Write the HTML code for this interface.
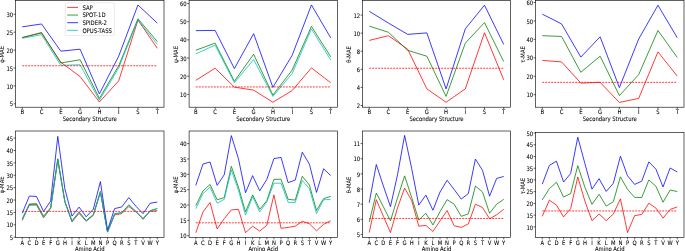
<!DOCTYPE html>
<html lang="en"><head><meta charset="utf-8"><title>MAE by secondary structure and amino acid</title>
<style>html,body{margin:0;padding:0;background:#fff}body{width:685px;height:251px;overflow:hidden}svg{display:block}</style>
</head><body>
<svg width="685" height="251" viewBox="0 0 685 251" font-family="'DejaVu Sans', 'Liberation Sans', sans-serif" font-size="5.27" fill="#000"><style>text{text-rendering:geometricPrecision;stroke:#000;stroke-width:0.06px;stroke-linejoin:round}</style>
<rect width="685" height="251" fill="#fff"/>
<g>
<clipPath id="cp0"><rect x="15.5" y="0.5" width="148.5" height="106.7"/></clipPath>
<g clip-path="url(#cp0)" fill="none" stroke-width="0.77" stroke-linejoin="miter" stroke-linecap="butt">
<polyline stroke="#ff0000" points="22.25,37.57 41.54,32.92 60.82,62.27 80.11,76.59 99.39,102.01 118.68,80.89 137.96,20.03 157.25,48.31"/>
<polyline stroke="#008000" points="22.25,37.57 41.54,32.56 60.82,62.99 80.11,59.77 99.39,98.43 118.68,65.85 137.96,18.77 157.25,41.51"/>
<polyline stroke="#0000ff" points="22.25,26.83 41.54,23.97 60.82,51.17 80.11,49.2 99.39,93.95 118.68,56.19 137.96,4.99 157.25,23.07"/>
<polyline stroke="#00bfbf" points="22.25,38.29 41.54,34.71 60.82,65.31 80.11,64.78 99.39,100.22 118.68,68 137.96,20.03 157.25,44.37"/>
<line x1="22.25" y1="65.78" x2="157.25" y2="65.78" stroke="#ff0000" stroke-dasharray="1.95 1.05"/>
</g>
<path d="M22.25 107.2v1.9M41.54 107.2v1.9M60.82 107.2v1.9M80.11 107.2v1.9M99.39 107.2v1.9M118.68 107.2v1.9M137.96 107.2v1.9M157.25 107.2v1.9M15.5 103.8h-1.9M15.5 85.9h-1.9M15.5 68h-1.9M15.5 50.1h-1.9M15.5 32.2h-1.9M15.5 14.3h-1.9" stroke="#000" stroke-width="0.62" fill="none"/>
<rect x="15.5" y="0.5" width="148.5" height="106.7" fill="none" stroke="#000" stroke-width="0.62"/>
<g text-anchor="middle">
<text transform="translate(22.25 114.21) scale(1 1.16)">B</text>
<text transform="translate(41.54 114.21) scale(1 1.16)">C</text>
<text transform="translate(60.82 114.21) scale(1 1.16)">E</text>
<text transform="translate(80.11 114.21) scale(1 1.16)">G</text>
<text transform="translate(99.39 114.21) scale(1 1.16)">H</text>
<text transform="translate(118.68 114.21) scale(1 1.16)">I</text>
<text transform="translate(137.96 114.21) scale(1 1.16)">S</text>
<text transform="translate(157.25 114.21) scale(1 1.16)">T</text>
<text transform="translate(89.75 120.5) scale(1 1.16)">Secondary Structure</text>
</g>
<g text-anchor="end">
<text transform="translate(13.1 106.43) scale(1 1.16)">5</text>
<text transform="translate(13.1 88.53) scale(1 1.16)">10</text>
<text transform="translate(13.1 70.63) scale(1 1.16)">15</text>
<text transform="translate(13.1 52.73) scale(1 1.16)">20</text>
<text transform="translate(13.1 34.83) scale(1 1.16)">25</text>
<text transform="translate(13.1 16.93) scale(1 1.16)">30</text>
</g>
<text text-anchor="middle" transform="translate(3.93 54.45) rotate(-90) scale(1 1.16)">φ-MAE</text>
<rect x="65.3" y="2.9" width="49.0" height="32.6" rx="1" ry="1" fill="#fff" fill-opacity="0.8" stroke="#ccc" stroke-width="0.4"/>
<g font-size="5.37">
<line x1="67.2" x2="78" y1="7.4" y2="7.4" stroke="#ff0000" stroke-width="0.77"/>
<text transform="translate(82.4 9.63) scale(1 1.16)">SAP</text>
<line x1="67.2" x2="78" y1="15.05" y2="15.05" stroke="#008000" stroke-width="0.77"/>
<text transform="translate(82.4 17.28) scale(1 1.16)">SPOT-1D</text>
<line x1="67.2" x2="78" y1="22.7" y2="22.7" stroke="#0000ff" stroke-width="0.77"/>
<text transform="translate(82.4 24.93) scale(1 1.16)">SPIDER-2</text>
<line x1="67.2" x2="78" y1="30.35" y2="30.35" stroke="#00bfbf" stroke-width="0.77"/>
<text transform="translate(82.4 32.58) scale(1 1.16)">OPUS-TASS</text>
</g>
</g>
<g>
<clipPath id="cp1"><rect x="189.1" y="0.5" width="148.35" height="106.7"/></clipPath>
<g clip-path="url(#cp1)" fill="none" stroke-width="0.77" stroke-linejoin="miter" stroke-linecap="butt">
<polyline stroke="#ff0000" points="195.84,80.31 215.11,68.22 234.38,87.13 253.64,90.13 272.91,102.22 292.17,90.58 311.44,67.86 330.71,82.76"/>
<polyline stroke="#008000" points="195.84,50.22 215.11,43.13 234.38,81.31 253.64,54.22 272.91,95.13 292.17,70.04 311.44,26.41 330.71,56.77"/>
<polyline stroke="#0000ff" points="195.84,30.64 215.11,30.41 234.38,68.58 253.64,33.68 272.91,87.4 292.17,55.31 311.44,4.95 330.71,37.86"/>
<polyline stroke="#00bfbf" points="195.84,53.86 215.11,45.13 234.38,82.76 253.64,59.49 272.91,96.4 292.17,73.49 311.44,28.95 330.71,59.86"/>
<line x1="195.84" y1="86.95" x2="330.71" y2="86.95" stroke="#ff0000" stroke-dasharray="1.95 1.05"/>
</g>
<path d="M195.84 107.2v1.9M215.11 107.2v1.9M234.38 107.2v1.9M253.64 107.2v1.9M272.91 107.2v1.9M292.17 107.2v1.9M311.44 107.2v1.9M330.71 107.2v1.9M189.1 94.4h-1.9M189.1 76.22h-1.9M189.1 58.04h-1.9M189.1 39.86h-1.9M189.1 21.68h-1.9M189.1 3.5h-1.9" stroke="#000" stroke-width="0.62" fill="none"/>
<rect x="189.1" y="0.5" width="148.35" height="106.7" fill="none" stroke="#000" stroke-width="0.62"/>
<g text-anchor="middle">
<text transform="translate(195.84 114.21) scale(1 1.16)">B</text>
<text transform="translate(215.11 114.21) scale(1 1.16)">C</text>
<text transform="translate(234.38 114.21) scale(1 1.16)">E</text>
<text transform="translate(253.64 114.21) scale(1 1.16)">G</text>
<text transform="translate(272.91 114.21) scale(1 1.16)">H</text>
<text transform="translate(292.17 114.21) scale(1 1.16)">I</text>
<text transform="translate(311.44 114.21) scale(1 1.16)">S</text>
<text transform="translate(330.71 114.21) scale(1 1.16)">T</text>
<text transform="translate(263.27 120.5) scale(1 1.16)">Secondary Structure</text>
</g>
<g text-anchor="end">
<text transform="translate(186.7 97.03) scale(1 1.16)">10</text>
<text transform="translate(186.7 78.85) scale(1 1.16)">20</text>
<text transform="translate(186.7 60.67) scale(1 1.16)">30</text>
<text transform="translate(186.7 42.49) scale(1 1.16)">40</text>
<text transform="translate(186.7 24.31) scale(1 1.16)">50</text>
<text transform="translate(186.7 6.13) scale(1 1.16)">60</text>
</g>
<text text-anchor="middle" transform="translate(178.13 54.45) rotate(-90) scale(1 1.16)">ψ-MAE</text>
</g>
<g>
<clipPath id="cp2"><rect x="362.5" y="0.5" width="147.95" height="106.7"/></clipPath>
<g clip-path="url(#cp2)" fill="none" stroke-width="0.77" stroke-linejoin="miter" stroke-linecap="butt">
<polyline stroke="#ff0000" points="369.23,40.41 388.44,35.71 407.65,49.18 426.87,88.87 446.08,102.25 465.3,88.87 484.51,32.73 503.72,79.83"/>
<polyline stroke="#008000" points="369.23,26.13 388.44,32.28 407.65,50.36 426.87,56.23 446.08,96.46 465.3,43.12 484.51,22.6 503.72,61.57"/>
<polyline stroke="#0000ff" points="369.23,11.3 388.44,23.06 407.65,34.36 426.87,32.91 446.08,88.87 465.3,28.84 484.51,5.16 503.72,44.48"/>
<line x1="369.23" y1="68.26" x2="503.72" y2="68.26" stroke="#ff0000" stroke-dasharray="1.95 1.05"/>
</g>
<path d="M369.23 107.2v1.9M388.44 107.2v1.9M407.65 107.2v1.9M426.87 107.2v1.9M446.08 107.2v1.9M465.3 107.2v1.9M484.51 107.2v1.9M503.72 107.2v1.9M362.5 105.5h-1.9M362.5 87.42h-1.9M362.5 69.34h-1.9M362.5 51.26h-1.9M362.5 33.18h-1.9M362.5 15.1h-1.9" stroke="#000" stroke-width="0.62" fill="none"/>
<rect x="362.5" y="0.5" width="147.95" height="106.7" fill="none" stroke="#000" stroke-width="0.62"/>
<g text-anchor="middle">
<text transform="translate(369.23 114.21) scale(1 1.16)">B</text>
<text transform="translate(388.44 114.21) scale(1 1.16)">C</text>
<text transform="translate(407.65 114.21) scale(1 1.16)">E</text>
<text transform="translate(426.87 114.21) scale(1 1.16)">G</text>
<text transform="translate(446.08 114.21) scale(1 1.16)">H</text>
<text transform="translate(465.3 114.21) scale(1 1.16)">I</text>
<text transform="translate(484.51 114.21) scale(1 1.16)">S</text>
<text transform="translate(503.72 114.21) scale(1 1.16)">T</text>
<text transform="translate(436.48 120.5) scale(1 1.16)">Secondary Structure</text>
</g>
<g text-anchor="end">
<text transform="translate(360.1 108.13) scale(1 1.16)">2</text>
<text transform="translate(360.1 90.05) scale(1 1.16)">4</text>
<text transform="translate(360.1 71.97) scale(1 1.16)">6</text>
<text transform="translate(360.1 53.89) scale(1 1.16)">8</text>
<text transform="translate(360.1 35.81) scale(1 1.16)">10</text>
<text transform="translate(360.1 17.73) scale(1 1.16)">12</text>
</g>
<text text-anchor="middle" transform="translate(351.08 54.45) rotate(-90) scale(1 1.16)">θ-MAE</text>
</g>
<g>
<clipPath id="cp3"><rect x="535.5" y="0.5" width="148.5" height="106.7"/></clipPath>
<g clip-path="url(#cp3)" fill="none" stroke-width="0.77" stroke-linejoin="miter" stroke-linecap="butt">
<polyline stroke="#ff0000" points="542.25,60.4 561.54,61.88 580.82,83.08 600.11,82.35 619.39,102.44 638.68,98.39 657.96,51.92 677.25,76.08"/>
<polyline stroke="#008000" points="542.25,35.69 561.54,36.43 580.82,72.3 600.11,56.16 619.39,95.62 638.68,74.6 657.96,30.53 677.25,57.45"/>
<polyline stroke="#0000ff" points="542.25,14.12 561.54,23.89 580.82,57.08 600.11,36.8 619.39,87.6 638.68,39.01 657.96,5.27 677.25,37.72"/>
<line x1="542.25" y1="82.35" x2="677.25" y2="82.35" stroke="#ff0000" stroke-dasharray="1.95 1.05"/>
</g>
<path d="M542.25 107.2v1.9M561.54 107.2v1.9M580.82 107.2v1.9M600.11 107.2v1.9M619.39 107.2v1.9M638.68 107.2v1.9M657.96 107.2v1.9M677.25 107.2v1.9M535.5 94.7h-1.9M535.5 76.26h-1.9M535.5 57.82h-1.9M535.5 39.38h-1.9M535.5 20.94h-1.9M535.5 2.5h-1.9" stroke="#000" stroke-width="0.62" fill="none"/>
<rect x="535.5" y="0.5" width="148.5" height="106.7" fill="none" stroke="#000" stroke-width="0.62"/>
<g text-anchor="middle">
<text transform="translate(542.25 114.21) scale(1 1.16)">B</text>
<text transform="translate(561.54 114.21) scale(1 1.16)">C</text>
<text transform="translate(580.82 114.21) scale(1 1.16)">E</text>
<text transform="translate(600.11 114.21) scale(1 1.16)">G</text>
<text transform="translate(619.39 114.21) scale(1 1.16)">H</text>
<text transform="translate(638.68 114.21) scale(1 1.16)">I</text>
<text transform="translate(657.96 114.21) scale(1 1.16)">S</text>
<text transform="translate(677.25 114.21) scale(1 1.16)">T</text>
<text transform="translate(609.75 120.5) scale(1 1.16)">Secondary Structure</text>
</g>
<g text-anchor="end">
<text transform="translate(533.1 97.33) scale(1 1.16)">10</text>
<text transform="translate(533.1 78.89) scale(1 1.16)">20</text>
<text transform="translate(533.1 60.45) scale(1 1.16)">30</text>
<text transform="translate(533.1 42.01) scale(1 1.16)">40</text>
<text transform="translate(533.1 23.57) scale(1 1.16)">50</text>
<text transform="translate(533.1 5.13) scale(1 1.16)">60</text>
</g>
<text text-anchor="middle" transform="translate(524.73 54.45) rotate(-90) scale(1 1.16)">τ-MAE</text>
</g>
<g>
<clipPath id="cp4"><rect x="15.5" y="131" width="148.5" height="106.5"/></clipPath>
<g clip-path="url(#cp4)" fill="none" stroke-width="0.77" stroke-linejoin="miter" stroke-linecap="butt">
<polyline stroke="#ff0000" points="22.25,220.48 29.36,204 36.46,204.5 43.57,217.88 50.67,208.21 57.78,159.65 64.88,201.77 71.99,221.84 79.09,213.42 86.2,221.1 93.3,215.4 100.41,191.86 107.51,232 114.62,214.9 121.72,213.66 128.83,206.48 135.93,211.93 143.04,218.37 150.14,211.19 157.25,210.69"/>
<polyline stroke="#008000" points="22.25,218.62 29.36,204.5 36.46,203.51 43.57,216.14 50.67,207.72 57.78,158.79 64.88,201.52 71.99,220.85 79.09,211.93 86.2,220.6 93.3,214.65 100.41,191.49 107.51,231.75 114.62,213.66 121.72,212.67 128.83,204.74 135.93,211.43 143.04,219.36 150.14,210.69 157.25,208.58"/>
<polyline stroke="#0000ff" points="22.25,213.17 29.36,196.07 36.46,196.45 43.57,211.43 50.67,201.03 57.78,136.37 64.88,188.89 71.99,216.14 79.09,207.1 86.2,216.76 93.3,209.2 100.41,181.58 107.51,230.26 114.62,208.58 121.72,206.97 128.83,197.56 135.93,206.23 143.04,213.66 150.14,203.26 157.25,202.02"/>
<polyline stroke="#00bfbf" points="22.25,219.61 29.36,205.49 36.46,205.24 43.57,217.13 50.67,208.21 57.78,160.4 64.88,202.02 71.99,221.59 79.09,212.42 86.2,221.1 93.3,214.9 100.41,192.11 107.51,232.24 114.62,214.16 121.72,212.92 128.83,205.49 135.93,211.68 143.04,218.87 150.14,210.81 157.25,208.46"/>
<line x1="22.25" y1="211.43" x2="157.25" y2="211.43" stroke="#ff0000" stroke-dasharray="1.95 1.05"/>
</g>
<path d="M22.25 237.5v1.9M29.36 237.5v1.9M36.46 237.5v1.9M43.57 237.5v1.9M50.67 237.5v1.9M57.78 237.5v1.9M64.88 237.5v1.9M71.99 237.5v1.9M79.09 237.5v1.9M86.2 237.5v1.9M93.3 237.5v1.9M100.41 237.5v1.9M107.51 237.5v1.9M114.62 237.5v1.9M121.72 237.5v1.9M128.83 237.5v1.9M135.93 237.5v1.9M143.04 237.5v1.9M150.14 237.5v1.9M157.25 237.5v1.9M15.5 237.2h-1.9M15.5 224.81h-1.9M15.5 212.42h-1.9M15.5 200.04h-1.9M15.5 187.65h-1.9M15.5 175.26h-1.9M15.5 162.88h-1.9M15.5 150.49h-1.9M15.5 138.1h-1.9" stroke="#000" stroke-width="0.62" fill="none"/>
<rect x="15.5" y="131" width="148.5" height="106.5" fill="none" stroke="#000" stroke-width="0.62"/>
<g text-anchor="middle">
<text transform="translate(22.25 244.51) scale(1 1.16)">A</text>
<text transform="translate(29.36 244.51) scale(1 1.16)">C</text>
<text transform="translate(36.46 244.51) scale(1 1.16)">D</text>
<text transform="translate(43.57 244.51) scale(1 1.16)">E</text>
<text transform="translate(50.67 244.51) scale(1 1.16)">F</text>
<text transform="translate(57.78 244.51) scale(1 1.16)">G</text>
<text transform="translate(64.88 244.51) scale(1 1.16)">H</text>
<text transform="translate(71.99 244.51) scale(1 1.16)">I</text>
<text transform="translate(79.09 244.51) scale(1 1.16)">K</text>
<text transform="translate(86.2 244.51) scale(1 1.16)">L</text>
<text transform="translate(93.3 244.51) scale(1 1.16)">M</text>
<text transform="translate(100.41 244.51) scale(1 1.16)">N</text>
<text transform="translate(107.51 244.51) scale(1 1.16)">P</text>
<text transform="translate(114.62 244.51) scale(1 1.16)">Q</text>
<text transform="translate(121.72 244.51) scale(1 1.16)">R</text>
<text transform="translate(128.83 244.51) scale(1 1.16)">S</text>
<text transform="translate(135.93 244.51) scale(1 1.16)">T</text>
<text transform="translate(143.04 244.51) scale(1 1.16)">V</text>
<text transform="translate(150.14 244.51) scale(1 1.16)">W</text>
<text transform="translate(157.25 244.51) scale(1 1.16)">Y</text>
<text transform="translate(89.75 250.8) scale(1 1.16)">Amino Acid</text>
</g>
<g text-anchor="end">
<text transform="translate(13.1 239.83) scale(1 1.16)">5</text>
<text transform="translate(13.1 227.44) scale(1 1.16)">10</text>
<text transform="translate(13.1 215.06) scale(1 1.16)">15</text>
<text transform="translate(13.1 202.67) scale(1 1.16)">20</text>
<text transform="translate(13.1 190.28) scale(1 1.16)">25</text>
<text transform="translate(13.1 177.89) scale(1 1.16)">30</text>
<text transform="translate(13.1 165.51) scale(1 1.16)">35</text>
<text transform="translate(13.1 153.12) scale(1 1.16)">40</text>
<text transform="translate(13.1 140.73) scale(1 1.16)">45</text>
</g>
<text text-anchor="middle" transform="translate(3.93 184.85) rotate(-90) scale(1 1.16)">φ-MAE</text>
</g>
<g>
<clipPath id="cp5"><rect x="189.1" y="131" width="148.35" height="106.5"/></clipPath>
<g clip-path="url(#cp5)" fill="none" stroke-width="0.77" stroke-linejoin="miter" stroke-linecap="butt">
<polyline stroke="#ff0000" points="195.84,232.72 202.94,211.91 210.04,202.54 217.14,228.95 224.24,218.66 231.33,209.91 238.43,209.3 245.53,232.63 252.63,226.18 259.73,231.09 266.82,225.26 273.92,194.87 281.02,228.33 288.12,227.41 295.22,226.18 302.31,221.27 309.41,223.73 316.51,230.79 323.61,224.34 330.71,220.66"/>
<polyline stroke="#008000" points="195.84,205.61 202.94,191.03 210.04,184.43 217.14,199.78 224.24,197.63 231.33,166.32 238.43,187.19 245.53,211.91 252.63,194.87 259.73,209.3 266.82,200.7 273.92,179.37 281.02,179.21 288.12,199.32 295.22,200.09 302.31,176.3 309.41,185.04 316.51,210.53 323.61,198.55 330.71,196.4"/>
<polyline stroke="#0000ff" points="195.84,185.35 202.94,164.02 210.04,162.02 217.14,185.35 224.24,174.76 231.33,135.62 238.43,158.64 245.53,192.72 252.63,175.68 259.73,190.88 266.82,179.37 273.92,158.64 281.02,157.41 288.12,182.59 295.22,180.13 302.31,152.2 309.41,164.17 316.51,192.41 323.61,168.77 330.71,175.53"/>
<polyline stroke="#00bfbf" points="195.84,208.68 202.94,193.64 210.04,187.19 217.14,203.16 224.24,199.32 231.33,170 238.43,190.26 245.53,215.13 252.63,196.71 259.73,211.91 266.82,201.93 273.92,183.2 281.02,183.2 288.12,202.24 295.22,202.54 302.31,180.44 309.41,188.73 316.51,213.6 323.61,199.78 330.71,199.32"/>
<line x1="195.84" y1="222.81" x2="330.71" y2="222.81" stroke="#ff0000" stroke-dasharray="1.95 1.05"/>
</g>
<path d="M195.84 237.5v1.9M202.94 237.5v1.9M210.04 237.5v1.9M217.14 237.5v1.9M224.24 237.5v1.9M231.33 237.5v1.9M238.43 237.5v1.9M245.53 237.5v1.9M252.63 237.5v1.9M259.73 237.5v1.9M266.82 237.5v1.9M273.92 237.5v1.9M281.02 237.5v1.9M288.12 237.5v1.9M295.22 237.5v1.9M302.31 237.5v1.9M309.41 237.5v1.9M316.51 237.5v1.9M323.61 237.5v1.9M330.71 237.5v1.9M189.1 235.7h-1.9M189.1 220.35h-1.9M189.1 205h-1.9M189.1 189.65h-1.9M189.1 174.3h-1.9M189.1 158.95h-1.9M189.1 143.6h-1.9" stroke="#000" stroke-width="0.62" fill="none"/>
<rect x="189.1" y="131" width="148.35" height="106.5" fill="none" stroke="#000" stroke-width="0.62"/>
<g text-anchor="middle">
<text transform="translate(195.84 244.51) scale(1 1.16)">A</text>
<text transform="translate(202.94 244.51) scale(1 1.16)">C</text>
<text transform="translate(210.04 244.51) scale(1 1.16)">D</text>
<text transform="translate(217.14 244.51) scale(1 1.16)">E</text>
<text transform="translate(224.24 244.51) scale(1 1.16)">F</text>
<text transform="translate(231.33 244.51) scale(1 1.16)">G</text>
<text transform="translate(238.43 244.51) scale(1 1.16)">H</text>
<text transform="translate(245.53 244.51) scale(1 1.16)">I</text>
<text transform="translate(252.63 244.51) scale(1 1.16)">K</text>
<text transform="translate(259.73 244.51) scale(1 1.16)">L</text>
<text transform="translate(266.82 244.51) scale(1 1.16)">M</text>
<text transform="translate(273.92 244.51) scale(1 1.16)">N</text>
<text transform="translate(281.02 244.51) scale(1 1.16)">P</text>
<text transform="translate(288.12 244.51) scale(1 1.16)">Q</text>
<text transform="translate(295.22 244.51) scale(1 1.16)">R</text>
<text transform="translate(302.31 244.51) scale(1 1.16)">S</text>
<text transform="translate(309.41 244.51) scale(1 1.16)">T</text>
<text transform="translate(316.51 244.51) scale(1 1.16)">V</text>
<text transform="translate(323.61 244.51) scale(1 1.16)">W</text>
<text transform="translate(330.71 244.51) scale(1 1.16)">Y</text>
<text transform="translate(263.27 250.8) scale(1 1.16)">Amino Acid</text>
</g>
<g text-anchor="end">
<text transform="translate(186.7 238.33) scale(1 1.16)">10</text>
<text transform="translate(186.7 222.98) scale(1 1.16)">15</text>
<text transform="translate(186.7 207.63) scale(1 1.16)">20</text>
<text transform="translate(186.7 192.28) scale(1 1.16)">25</text>
<text transform="translate(186.7 176.93) scale(1 1.16)">30</text>
<text transform="translate(186.7 161.58) scale(1 1.16)">35</text>
<text transform="translate(186.7 146.23) scale(1 1.16)">40</text>
</g>
<text text-anchor="middle" transform="translate(178.13 184.85) rotate(-90) scale(1 1.16)">ψ-MAE</text>
</g>
<g>
<clipPath id="cp6"><rect x="362.5" y="131" width="147.95" height="106.5"/></clipPath>
<g clip-path="url(#cp6)" fill="none" stroke-width="0.77" stroke-linejoin="miter" stroke-linecap="butt">
<polyline stroke="#ff0000" points="369.23,232.53 376.3,199.66 383.38,216.32 390.46,232.53 397.54,207.84 404.62,188.14 411.7,200.56 418.78,226.17 425.86,225.41 432.94,231.47 440.01,220.87 447.09,210.56 454.17,225.71 461.25,227.38 468.33,223.9 475.41,204.2 482.49,207.53 489.57,218.74 496.65,214.81 503.72,209.35"/>
<polyline stroke="#008000" points="369.23,221.93 376.3,192.99 383.38,206.78 390.46,220.87 397.54,197.84 404.62,175.87 411.7,197.53 418.78,220.11 425.86,213.29 432.94,224.96 440.01,211.78 447.09,199.66 454.17,204.2 461.25,216.32 468.33,213.9 475.41,186.02 482.49,191.93 489.57,213.29 496.65,204.2 503.72,199.35"/>
<polyline stroke="#0000ff" points="369.23,202.69 376.3,164.51 383.38,186.02 390.46,206.62 397.54,174.66 404.62,135.42 411.7,168.6 418.78,205.11 425.86,195.11 432.94,210.26 440.01,192.08 447.09,180.26 454.17,189.5 461.25,199.05 468.33,193.59 475.41,159.05 482.49,170.26 489.57,196.17 496.65,178.44 503.72,176.48"/>
<line x1="369.23" y1="218.44" x2="503.72" y2="218.44" stroke="#ff0000" stroke-dasharray="1.95 1.05"/>
</g>
<path d="M369.23 237.5v1.9M376.3 237.5v1.9M383.38 237.5v1.9M390.46 237.5v1.9M397.54 237.5v1.9M404.62 237.5v1.9M411.7 237.5v1.9M418.78 237.5v1.9M425.86 237.5v1.9M432.94 237.5v1.9M440.01 237.5v1.9M447.09 237.5v1.9M454.17 237.5v1.9M461.25 237.5v1.9M468.33 237.5v1.9M475.41 237.5v1.9M482.49 237.5v1.9M489.57 237.5v1.9M496.65 237.5v1.9M503.72 237.5v1.9M362.5 234.5h-1.9M362.5 219.35h-1.9M362.5 204.2h-1.9M362.5 189.05h-1.9M362.5 173.9h-1.9M362.5 158.75h-1.9M362.5 143.6h-1.9" stroke="#000" stroke-width="0.62" fill="none"/>
<rect x="362.5" y="131" width="147.95" height="106.5" fill="none" stroke="#000" stroke-width="0.62"/>
<g text-anchor="middle">
<text transform="translate(369.23 244.51) scale(1 1.16)">A</text>
<text transform="translate(376.3 244.51) scale(1 1.16)">C</text>
<text transform="translate(383.38 244.51) scale(1 1.16)">D</text>
<text transform="translate(390.46 244.51) scale(1 1.16)">E</text>
<text transform="translate(397.54 244.51) scale(1 1.16)">F</text>
<text transform="translate(404.62 244.51) scale(1 1.16)">G</text>
<text transform="translate(411.7 244.51) scale(1 1.16)">H</text>
<text transform="translate(418.78 244.51) scale(1 1.16)">I</text>
<text transform="translate(425.86 244.51) scale(1 1.16)">K</text>
<text transform="translate(432.94 244.51) scale(1 1.16)">L</text>
<text transform="translate(440.01 244.51) scale(1 1.16)">M</text>
<text transform="translate(447.09 244.51) scale(1 1.16)">N</text>
<text transform="translate(454.17 244.51) scale(1 1.16)">P</text>
<text transform="translate(461.25 244.51) scale(1 1.16)">Q</text>
<text transform="translate(468.33 244.51) scale(1 1.16)">R</text>
<text transform="translate(475.41 244.51) scale(1 1.16)">S</text>
<text transform="translate(482.49 244.51) scale(1 1.16)">T</text>
<text transform="translate(489.57 244.51) scale(1 1.16)">V</text>
<text transform="translate(496.65 244.51) scale(1 1.16)">W</text>
<text transform="translate(503.72 244.51) scale(1 1.16)">Y</text>
<text transform="translate(436.48 250.8) scale(1 1.16)">Amino Acid</text>
</g>
<g text-anchor="end">
<text transform="translate(360.1 237.13) scale(1 1.16)">5</text>
<text transform="translate(360.1 221.98) scale(1 1.16)">6</text>
<text transform="translate(360.1 206.83) scale(1 1.16)">7</text>
<text transform="translate(360.1 191.68) scale(1 1.16)">8</text>
<text transform="translate(360.1 176.53) scale(1 1.16)">9</text>
<text transform="translate(360.1 161.38) scale(1 1.16)">10</text>
<text transform="translate(360.1 146.23) scale(1 1.16)">11</text>
</g>
<text text-anchor="middle" transform="translate(351.08 184.85) rotate(-90) scale(1 1.16)">θ-MAE</text>
</g>
<g>
<clipPath id="cp7"><rect x="535.5" y="132.5" width="148.5" height="105"/></clipPath>
<g clip-path="url(#cp7)" fill="none" stroke-width="0.77" stroke-linejoin="miter" stroke-linecap="butt">
<polyline stroke="#ff0000" points="542.25,216.34 549.36,200.14 556.46,205.07 563.57,216.9 570.67,208.59 577.78,177.02 584.88,201.08 591.99,220.68 599.09,213.99 606.2,220.68 613.3,213.99 620.41,198.85 627.51,232.53 634.62,215.63 641.72,214.46 648.83,203.19 655.93,208.12 663.04,218.21 670.14,209.41 677.25,206.95"/>
<polyline stroke="#008000" points="542.25,199.9 549.36,188.64 556.46,182.3 563.57,197.09 570.67,193.57 577.78,165.63 584.88,187.23 591.99,204.36 599.09,194.27 606.2,206.12 613.3,201.78 620.41,176.9 627.51,189.34 634.62,197.32 641.72,197.56 648.83,179.95 655.93,186.29 663.04,202.25 670.14,190.04 677.25,191.55"/>
<polyline stroke="#0000ff" points="542.25,184.18 549.36,165.4 556.46,161.17 563.57,182.06 570.67,173.49 577.78,137.23 584.88,163.52 591.99,189.11 599.09,178.66 606.2,191.45 613.3,183.35 620.41,156.24 627.51,175.72 634.62,184.41 641.72,181.24 648.83,161.87 655.93,169.15 663.04,186.99 670.14,167.98 677.25,171.97"/>
<line x1="542.25" y1="210.94" x2="677.25" y2="210.94" stroke="#ff0000" stroke-dasharray="1.95 1.05"/>
</g>
<path d="M542.25 237.5v1.9M549.36 237.5v1.9M556.46 237.5v1.9M563.57 237.5v1.9M570.67 237.5v1.9M577.78 237.5v1.9M584.88 237.5v1.9M591.99 237.5v1.9M599.09 237.5v1.9M606.2 237.5v1.9M613.3 237.5v1.9M620.41 237.5v1.9M627.51 237.5v1.9M634.62 237.5v1.9M641.72 237.5v1.9M648.83 237.5v1.9M655.93 237.5v1.9M663.04 237.5v1.9M670.14 237.5v1.9M677.25 237.5v1.9M535.5 226.9h-1.9M535.5 215.16h-1.9M535.5 203.43h-1.9M535.5 191.69h-1.9M535.5 179.95h-1.9M535.5 168.21h-1.9M535.5 156.48h-1.9M535.5 144.74h-1.9M535.5 133h-1.9" stroke="#000" stroke-width="0.62" fill="none"/>
<rect x="535.5" y="132.5" width="148.5" height="105" fill="none" stroke="#000" stroke-width="0.62"/>
<g text-anchor="middle">
<text transform="translate(542.25 244.51) scale(1 1.16)">A</text>
<text transform="translate(549.36 244.51) scale(1 1.16)">C</text>
<text transform="translate(556.46 244.51) scale(1 1.16)">D</text>
<text transform="translate(563.57 244.51) scale(1 1.16)">E</text>
<text transform="translate(570.67 244.51) scale(1 1.16)">F</text>
<text transform="translate(577.78 244.51) scale(1 1.16)">G</text>
<text transform="translate(584.88 244.51) scale(1 1.16)">H</text>
<text transform="translate(591.99 244.51) scale(1 1.16)">I</text>
<text transform="translate(599.09 244.51) scale(1 1.16)">K</text>
<text transform="translate(606.2 244.51) scale(1 1.16)">L</text>
<text transform="translate(613.3 244.51) scale(1 1.16)">M</text>
<text transform="translate(620.41 244.51) scale(1 1.16)">N</text>
<text transform="translate(627.51 244.51) scale(1 1.16)">P</text>
<text transform="translate(634.62 244.51) scale(1 1.16)">Q</text>
<text transform="translate(641.72 244.51) scale(1 1.16)">R</text>
<text transform="translate(648.83 244.51) scale(1 1.16)">S</text>
<text transform="translate(655.93 244.51) scale(1 1.16)">T</text>
<text transform="translate(663.04 244.51) scale(1 1.16)">V</text>
<text transform="translate(670.14 244.51) scale(1 1.16)">W</text>
<text transform="translate(677.25 244.51) scale(1 1.16)">Y</text>
<text transform="translate(609.75 250.8) scale(1 1.16)">Amino Acid</text>
</g>
<g text-anchor="end">
<text transform="translate(533.1 229.53) scale(1 1.16)">10</text>
<text transform="translate(533.1 217.79) scale(1 1.16)">15</text>
<text transform="translate(533.1 206.06) scale(1 1.16)">20</text>
<text transform="translate(533.1 194.32) scale(1 1.16)">25</text>
<text transform="translate(533.1 182.58) scale(1 1.16)">30</text>
<text transform="translate(533.1 170.84) scale(1 1.16)">35</text>
<text transform="translate(533.1 159.11) scale(1 1.16)">40</text>
<text transform="translate(533.1 147.37) scale(1 1.16)">45</text>
<text transform="translate(533.1 135.63) scale(1 1.16)">50</text>
</g>
<text text-anchor="middle" transform="translate(524.73 186.1) rotate(-90) scale(1 1.16)">τ-MAE</text>
</g>
</svg>
</body></html>
